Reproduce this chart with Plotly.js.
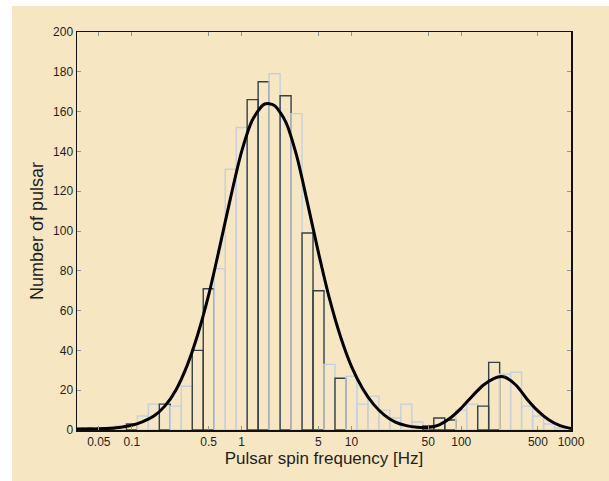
<!DOCTYPE html>
<html>
<head>
<meta charset="utf-8">
<script src="https://cdn.plot.ly/plotly-3.0.1.min.js"></script>
<style>
  html, body { margin: 0; padding: 0; background: #ffffff; }
  #chart { position: absolute; left: 12px; top: 6px; width: 597px; height: 475px; }
</style>
</head>
<body>
<div id="chart"></div>
<script>
// Histogram bins: centres in log10(frequency / Hz), bin width 0.1 dex
const binLogCenters = [-1.5, -1.4, -1.3, -1.2, -1.1, -1.0, -0.9, -0.8, -0.7, -0.6,
                       -0.5, -0.4, -0.3, -0.2, -0.1, 0.0, 0.1, 0.2, 0.3, 0.4,
                       0.5, 0.6, 0.7, 0.8, 0.9, 1.0, 1.1, 1.2, 1.3, 1.4,
                       1.5, 1.6, 1.7, 1.8, 1.9, 2.0, 2.1, 2.2, 2.3, 2.4,
                       2.5, 2.6, 2.7, 2.8, 2.9];
const binCounts = [1, 1, 1, 1, 2, 3, 7, 13, 13, 12,
                   22, 40, 71, 81, 131, 152, 166, 175, 179, 168,
                   159, 99, 70, 33, 26, 27, 13, 17, 10, 6,
                   13, 4, 2, 6, 5, 10, 13, 12, 34, 28,
                   29, 12, 7, 3, 1];
// outline tone of each bar as it appears in the print (d = dark, l = light)
const binTone = ['d','d','l','d','l','d','l','l','d','l',
                 'l','d','d','l','l','l','d','d','l','d',
                 'l','d','d','l','d','l','l','l','l','l',
                 'l','l','d','d','d','l','l','d','d','l',
                 'l','l','l','l','l'];

// Fitted bimodal curve (log10 Hz, count)
const fitLogFreq = [-1.5, -1.4, -1.3, -1.2, -1.1, -1.0, -0.9, -0.8, -0.7, -0.6,
                    -0.5, -0.4, -0.3, -0.2, -0.1, 0.0, 0.1, 0.2, 0.25, 0.3,
                    0.4, 0.5, 0.6, 0.7, 0.8, 0.9, 1.0, 1.1, 1.2, 1.3,
                    1.4, 1.5, 1.6, 1.7, 1.8, 1.9, 2.0, 2.1, 2.2, 2.3,
                    2.35, 2.4, 2.5, 2.6, 2.7, 2.8, 2.9, 3.0];
const fitCount = [0.3, 0.4, 0.6, 0.9, 1.4, 2.4, 4.2, 7, 12, 20,
                  32, 48, 68, 92, 117, 140, 156, 163.5, 164, 163,
                  155, 138, 114, 89, 66, 47, 32, 21, 13, 7.5,
                  4, 2.2, 1.4, 1.3, 2.6, 6, 11, 17, 22.5, 26,
                  26.8, 26.5, 22.5, 15.5, 9.5, 5, 2.2, 0.8];

// Axis ticks
const xTickFreqs = [0.05, 0.1, 0.5, 1, 5, 10, 50, 100, 500, 1000];
const xTickLabels = ['0.05', '0.1', '0.5', '1', '5', '10', '50', '100', '500', '1000'];
const yTickVals = [0, 20, 40, 60, 80, 100, 120, 140, 160, 180, 200];

const DARK = '#34414b';
const LIGHT = '#c3d0e2';
const BG = '#f6e7c2';

const bars = {
  type: 'bar',
  x: binLogCenters,
  y: binCounts,
  width: 0.1,
  marker: {
    color: 'rgba(0,0,0,0)',
    line: { color: binTone.map(t => t === 'd' ? DARK : LIGHT), width: 1.4 }
  },
  hoverinfo: 'x+y',
  showlegend: false
};

const curve = {
  type: 'scatter',
  mode: 'lines',
  x: fitLogFreq,
  y: fitCount,
  line: { color: '#000000', width: 3, shape: 'spline', smoothing: 0.8 },
  showlegend: false
};

const tickFont = { family: 'Liberation Sans, Arial, sans-serif', size: 12, color: '#1e1e1e' };

const layout = {
  width: 597,
  height: 475,
  margin: { l: 65, r: 38, t: 26, b: 51 },
  paper_bgcolor: BG,
  plot_bgcolor: BG,
  bargap: 0,
  showlegend: false,
  xaxis: {
    range: [-1.5, 3],
    tickvals: xTickFreqs.map(Math.log10),
    ticktext: xTickLabels,
    ticks: 'inside',
    ticklen: 4,
    tickcolor: '#8a949c',
    tickfont: tickFont,
    showline: true,
    linecolor: '#111111',
    linewidth: 1.5,
    mirror: 'ticks',
    showgrid: false,
    zeroline: false,
    title: { text: 'Pulsar spin frequency [Hz]', font: { family: 'Liberation Sans, Arial, sans-serif', size: 17, color: '#1e1e1e' }, standoff: 0 }
  },
  yaxis: {
    range: [0, 200],
    tickvals: yTickVals,
    ticks: 'inside',
    ticklen: 4,
    tickcolor: '#8a949c',
    tickfont: tickFont,
    showline: true,
    linecolor: '#111111',
    linewidth: 1.5,
    mirror: 'ticks',
    showgrid: false,
    zeroline: false,
    title: { text: 'Number of pulsar', font: { family: 'Liberation Sans, Arial, sans-serif', size: 18, color: '#1e1e1e' }, standoff: 5 }
  }
};

Plotly.newPlot('chart', [bars, curve], layout, { displayModeBar: false, staticPlot: true });
</script>
</body>
</html>
